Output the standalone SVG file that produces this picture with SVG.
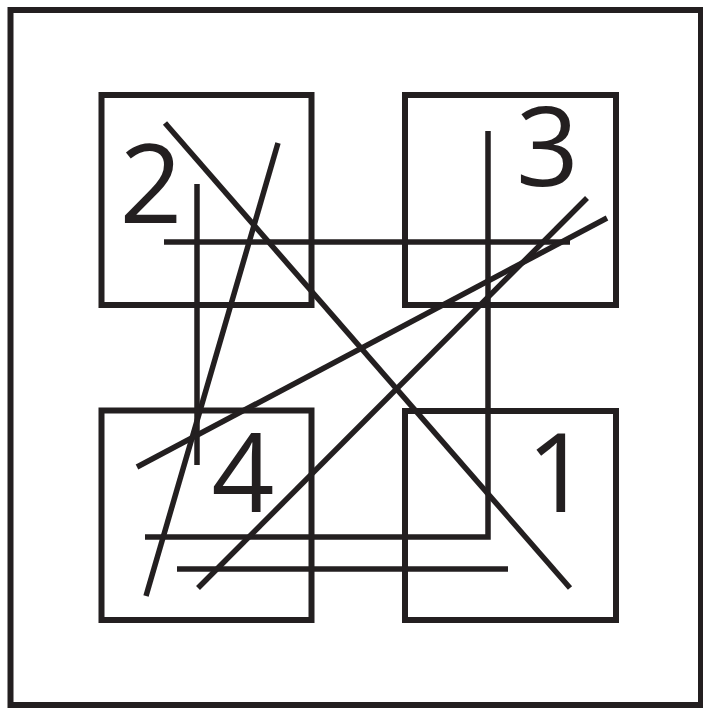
<svg xmlns="http://www.w3.org/2000/svg" width="703" height="708" viewBox="0 0 703 708">
<style>
.b{fill:none;stroke:#231f20;stroke-width:6}
.c{fill:none;stroke:#231f20;stroke-width:5.5;stroke-linecap:butt}
.t{font-family:"Open Sans","Liberation Sans",sans-serif;font-size:110px;fill:#231f20;text-anchor:middle}
</style>
<rect width="703" height="708" fill="#fff"/>
<rect id="frame" class="b" x="10.5" y="10" width="690.5" height="695"/>
<g id="node2"><rect class="b" x="101.5" y="95" width="210" height="210"/><text class="t" x="151" y="223">2</text></g>
<g id="node3"><rect class="b" x="405" y="95" width="211" height="210"/><text class="t" x="547.5" y="186">3</text></g>
<g id="node4"><rect class="b" x="101.5" y="410.5" width="210" height="209.5"/><text class="t" x="243" y="512">4</text></g>
<g id="node1"><rect class="b" x="405" y="411" width="211" height="209"/><text class="t" x="558" y="512">1</text></g>
<g id="connectors">
<line class="c" x1="165" y1="123" x2="570" y2="588"/>
<line class="c" x1="278" y1="143" x2="146" y2="596"/>
<line class="c" x1="197" y1="184" x2="197" y2="465"/>
<line class="c" x1="164" y1="242" x2="570" y2="242"/>
<polyline class="c" points="488,131 488,537 145,537"/>
<line class="c" x1="177" y1="569" x2="508" y2="569"/>
<line class="c" x1="198" y1="588" x2="587" y2="198"/>
<line class="c" x1="137" y1="467" x2="607" y2="218"/>
</g>
</svg>
